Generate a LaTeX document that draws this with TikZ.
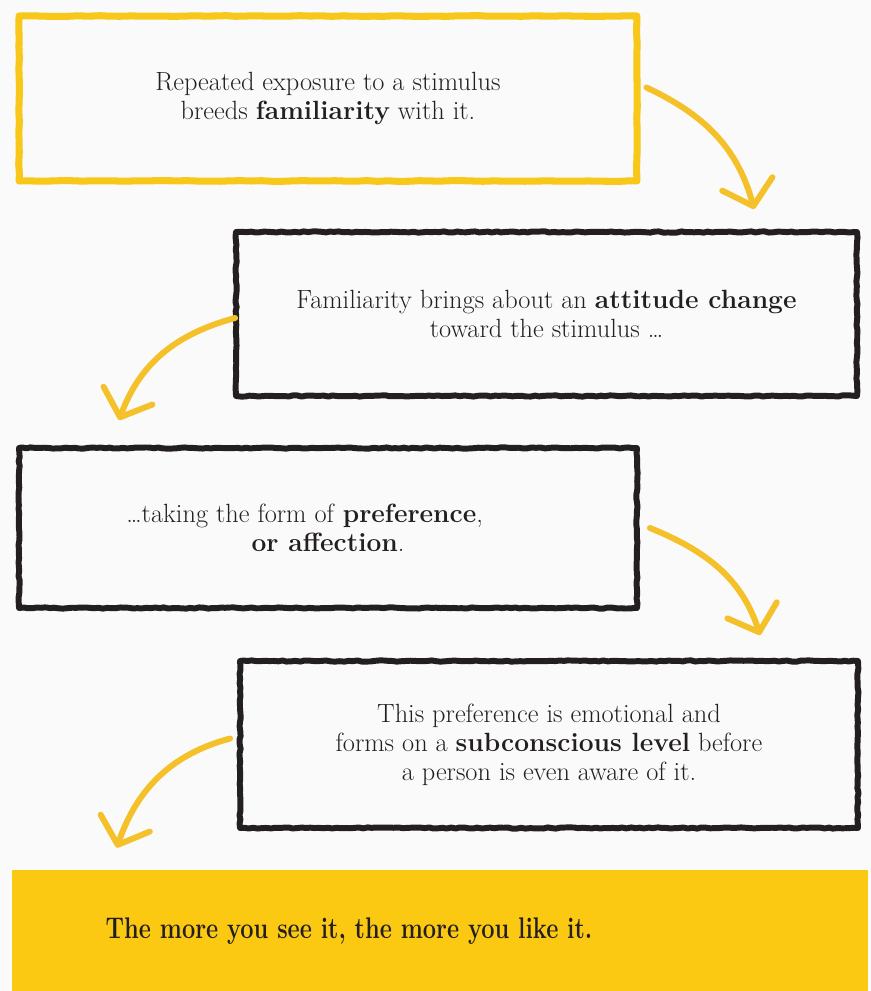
\documentclass[tikz,border=0pt]{standalone}
\usepackage{tikz}
\usetikzlibrary{calc,arrows.meta,positioning,decorations.pathmorphing}

\definecolor{pagebg}{HTML}{FAFAFA}
\definecolor{inkblack}{HTML}{231F20}
\definecolor{lineyellow}{HTML}{F7C71A}
\definecolor{banneryellow}{HTML}{FCC912}
\definecolor{arrowyellow}{HTML}{F5C12A}

\begin{document}
\begin{tikzpicture}[
    x=0.02cm,y=-0.02cm,
    box/.style={draw=inkblack,fill=pagebg,line width=3.4pt,line join=round,
                minimum width=12.36cm,minimum height=3.3cm,inner sep=0pt,
                align=center,text=inkblack,
                decorate,decoration={random steps,segment length=2.5pt,amplitude=0.35pt},
                font=\fontsize{15}{16.5}\selectfont},
    firstbox/.style={box,draw=lineyellow,line width=4pt,decoration={random steps,
                segment length=6pt,amplitude=0.2pt}},
    banner/.style={fill=banneryellow,minimum width=17.12cm,minimum height=2.42cm,
                   inner sep=0pt},
    motto/.style={text=inkblack,inner sep=0pt,
                  font=\fontsize{17}{20}\selectfont\bfseries},
    flow/.style={draw=arrowyellow,line width=3.4pt,line cap=round,
                 -{Straight Barb[length=4.6mm,width=10.4mm,round]}},
]
\pgfmathsetseed{7}

% ---- Page ----------------------------------------------------------------
\useasboundingbox[fill=pagebg] (0,0) rectangle (871,991);

% ---- Steps ---------------------------------------------------------------
\node[firstbox] (expo) at (328,98.5)
    {Repeated exposure to a stimulus\\ breeds \textbf{familiarity} with it.};
\node[box,minimum width=12.42cm,minimum height=3.28cm] (attit) at (546.5,314)
    {Familiarity brings about an \textbf{attitude change}\\ toward the stimulus \dots};
\node[box,minimum height=3.2cm] (pref) at (328,528)
    {\dots taking the form of \textbf{preference},\hphantom{\textbf{ or }}\\ \textbf{or affection}.};
\node[box,minimum height=3.34cm] (subc) at (549,744.5)
    {This preference is emotional and\\ forms on a \textbf{subconscious level} before\\
     a person is even aware of it.};

% ---- Conclusion ----------------------------------------------------------
\node[banner] (like) at (440,930.5) {};
\node[motto] (motto) at (349,931)
    {\scalebox{0.79}[1]{The more you see it, the more you like it.}};

% ---- Arrow tips
\coordinate (t1) at ($(attit.north west)+(521,-20)$);
\coordinate (t2) at ($(pref.north west)+(103,-25)$);
\coordinate (t3) at ($(subc.north west)+(523,-23)$);
\coordinate (t4) at ($(like.north west)+(105,-22)$);

% ---- Arrows --------------------------------------------------------------
\draw[flow] ($(expo.east)+(6,-11)$) to[out=-25,in=105] (t1);
\draw[flow] ($(attit.west)+(2,4)$)  to[out=195,in=70]  (t2);
\draw[flow] ($(pref.east)+(10,0)$)  to[out=-22,in=108] (t3);
\draw[flow] ($(subc.west)+(-7,-6)$) to[out=195,in=71]  (t4);

\end{tikzpicture}
\end{document}
